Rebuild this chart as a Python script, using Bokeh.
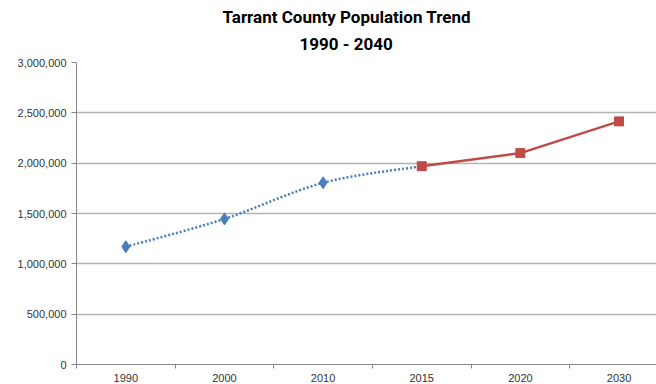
import numpy as np
from bokeh.plotting import figure
from bokeh.models import Range1d, FixedTicker, NumeralTickFormatter, Title
from bokeh.embed import file_html
from bokeh.resources import INLINE

years = ["1990", "2000", "2010", "2015", "2020", "2030"]
historic = [1170000, 1446000, 1805000, 1970000]      # 1990-2015 (blue, dotted)
projected = [1970000, 2100000, 2415000]              # 2015-2030 (red)
y_ticks = [0, 500000, 1000000, 1500000, 2000000, 2500000, 3000000]
title_lines = ["Tarrant County Population Trend", "1990 - 2040"]

pos = [i + 0.5 for i in range(len(years))]

p = figure(width=656, height=384, output_backend="svg", toolbar_location=None,
           x_range=Range1d(0, 5.88), y_range=Range1d(0, 3000000),
           min_border_left=76, min_border_right=0, min_border_top=0, min_border_bottom=0)

TF = "Roboto"
# titles stacked from the plot outward: second line, first line, top spacer
p.add_layout(Title(text=title_lines[1], align="left", text_font=TF, text_font_style="bold",
                   text_font_size="17px", text_color="#000000", offset=223, standoff=17), "above")
p.add_layout(Title(text=title_lines[0], align="left", text_font=TF, text_font_style="bold",
                   text_font_size="17px", text_color="#000000", offset=146, standoff=-7), "above")
p.add_layout(Title(text=" ", text_font_size="6px", standoff=0), "above")
p.outline_line_color = None

# axes
p.xaxis.ticker = FixedTicker(ticks=pos, minor_ticks=list(range(len(years) + 1)))
p.xaxis.major_label_overrides = {pos[i]: years[i] for i in range(len(years))}
p.xaxis.major_tick_out = 0
p.xaxis.major_tick_in = 0
p.xaxis.minor_tick_out = 4
p.xaxis.minor_tick_in = 0
p.xaxis.minor_tick_line_color = "#868686"
p.xaxis.axis_line_color = "#868686"
p.xaxis.major_label_standoff = 5

p.yaxis.ticker = FixedTicker(ticks=y_ticks, minor_ticks=[])
p.yaxis.formatter = NumeralTickFormatter(format="0,0")
p.yaxis.major_tick_out = 5
p.yaxis.major_tick_in = 0
p.yaxis.major_tick_line_color = "#868686"
p.yaxis.axis_line_color = "#868686"
p.yaxis.major_label_standoff = 5

for ax in (p.xaxis, p.yaxis):
    ax.major_label_text_font = "Liberation Sans"
    ax.major_label_text_font_size = "11px"
    ax.major_label_text_color = "#333333"

p.xgrid.visible = False
p.ygrid.ticker = FixedTicker(ticks=y_ticks)
p.ygrid.grid_line_color = "#b3b3b3"
p.ygrid.grid_line_width = 1.3

# smoothed blue curve (Catmull-Rom style Bezier through the data points)
hx = np.array(pos[:len(historic)], dtype=float)
hy = np.array(historic, dtype=float)
n = len(hx)
px = np.concatenate([[hx[0]], hx, [hx[-1]]])
py = np.concatenate([[hy[0]], hy, [hy[-1]]])
x0 = hx[:-1]; y0 = hy[:-1]; x1 = hx[1:]; y1 = hy[1:]
cx0 = x0 + (px[2:n + 1] - px[0:n - 1]) / 6
cy0 = y0 + (py[2:n + 1] - py[0:n - 1]) / 6
cx1 = x1 - (px[3:n + 2] - px[1:n]) / 6
cy1 = y1 - (py[3:n + 2] - py[1:n]) / 6
p.bezier(x0=x0, y0=y0, x1=x1, y1=y1, cx0=cx0, cy0=cy0, cx1=cx1, cy1=cy1,
         line_color="#4a7ebb", line_width=2.5, line_dash="2 2")
p.scatter(hx[:3], hy[:3], marker="diamond", size=12, fill_color="#4a7ebb",
          line_color="#4a7ebb")

rx = pos[3:]
p.line(rx, projected, line_color="#be4b48", line_width=2.5)
p.scatter(rx, projected, marker="square", size=9, fill_color="#be4b48",
          line_color="#be4b48")

open("out.html", "w").write(file_html(p, INLINE))
